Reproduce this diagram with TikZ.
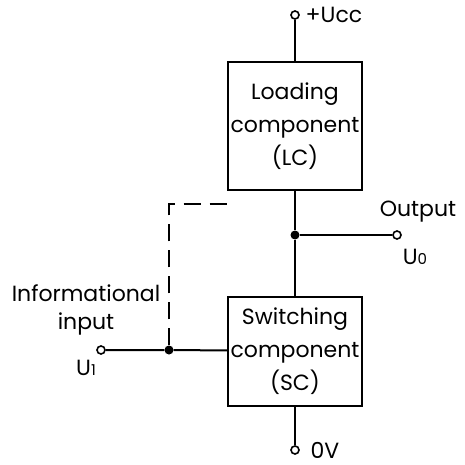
\documentclass[tikz,border=0pt]{standalone}
\usepackage{fontspec}
\setmainfont{Poppins}
\usetikzlibrary{positioning,calc}

\begin{document}
\begin{tikzpicture}[x=1pt,y=-1pt,
  bloque/.style={rectangle, draw, line width=2pt, minimum width=134pt,
    align=center, inner sep=0pt, font=\fontsize{22}{33}\selectfont},
  cable/.style={line width=2pt},
  discontinua/.style={cable, dash pattern=on 17pt off 9pt},
  borne/.style={circle, draw, line width=1.6pt, fill=white, inner sep=0pt,
    minimum size=8pt},
  union/.style={circle, fill, inner sep=0pt, minimum size=9pt},
  etiqueta/.style={inner sep=0pt, align=center, font=\fontsize{22}{28}\selectfont}
]
\useasboundingbox (0,0) rectangle (464,465);
\node[bloque, minimum height=128pt] (lc) at (295,126) {Loading\\component\\(LC)};
\node[bloque, minimum height=109pt] (sc) at (295,351) {Switching\\component\\(SC)};
\node[borne] (vcc) at (295,15) {};
\node[borne] (gnd) at (295,450) {};
\node[union] (jout) at (295,235) {};
\node[borne] (out) at (397,235) {};
\node[borne] (in) at (101,350) {};
\node[union] (jin) at (169,350) {};
\coordinate (codo) at (169,204);
% etiquetas
\node[etiqueta] (lvcc) at (334,15) {+Ucc};
\node[etiqueta] (lgnd) at (325,450) {0V};
\node[etiqueta] (lout) at (418,212) {Output};
\node[etiqueta] (luo) at (415,257) {U{\fontsize{15}{15}\selectfont 0}};
\node[etiqueta] (lin) at (86,310) {Informational\\input};
\node[etiqueta] (lui) at (86,368) {U{\fontsize{15}{15}\selectfont 1}};
% conexiones
\draw[cable] (vcc) -- (lc);
\draw[cable] (lc) -- (jout) -- (sc);
\draw[cable] (sc) -- (gnd);
\draw[cable] (jout) -- (out);
\draw[cable] (in) -- (jin) -- (sc);
\draw[discontinua] (jin) -- (codo) -- (lc.west |- codo);
\end{tikzpicture}
\end{document}
